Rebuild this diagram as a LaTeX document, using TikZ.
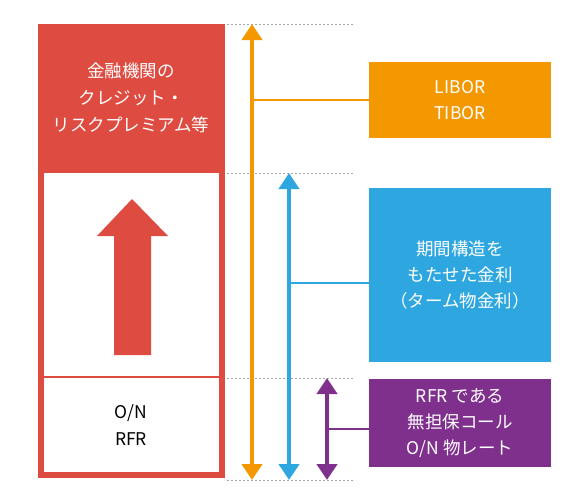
\documentclass[tikz,border=0pt]{standalone}
\usepackage{fontspec}
\setmainfont{Noto Sans CJK JP}
\usetikzlibrary{arrows.meta,positioning}
\definecolor{premred}{HTML}{DE4B41}
\definecolor{liborange}{HTML}{F39800}
\definecolor{termblue}{HTML}{2EA7E0}
\definecolor{onpurple}{HTML}{7F2F8C}
\tikzset{
    rate box/.style={
        fill=#1, text=white, minimum width=182pt, inner sep=0pt,
        align=center, font=\fontsize{17.5}{26}\selectfont
    },
    span arrow/.style={
        draw=#1, line width=4.5pt,
        {Triangle[length=16pt,width=20pt]}-{Triangle[length=16pt,width=20pt]}
    },
    branch/.style={draw=#1, line width=2.5pt},
    guide/.style={gray!70, line width=1pt, dash pattern=on 2pt off 2pt}
}

\begin{document}
\begin{tikzpicture}[x=1pt,y=-1pt]
    \useasboundingbox (0,0) rectangle (575,499);
    % left column
    \fill[premred] (38,24) rectangle (225,173);
    \draw[premred, line width=6pt] (41,27) rectangle (222,475);
    \draw[premred, line width=2.5pt] (41,377) -- (222,377);
    \fill[premred] (132,199) -- (168,236) -- (151,236) -- (151,355)
        -- (114,355) -- (114,236) -- (97,236) -- cycle;
    \node[text=white, align=center, font=\fontsize{17.5}{27}\selectfont] (prem) at (131,98)
        {金融機関の\\クレジット・\\リスクプレミアム等};
    \node[align=center, font=\fontsize{17.5}{27}\selectfont] (onrfr) at (131,425) {O/N\\RFR};
    % guides
    \foreach \y in {24,173,378,480}
        \draw[guide] (227,\y) -- (355,\y);
    % boxes
    \node[rate box=liborange, minimum height=76pt] (libor) at (460,100) {LIBOR\\TIBOR};
    \node[rate box=termblue, minimum height=174pt] (term) at (460,275)
        {期間構造を\\もたせた金利\\（ターム物金利）};
    \node[rate box=onpurple, minimum height=88pt] (oncall) at (460,423)
        {RFR である\\無担保コール\\O/N 物レート};
    % spans
    \coordinate (otop) at (252,24);
    \coordinate (obot) at (252,480);
    \coordinate (ttop) at (289,173);
    \coordinate (tbot) at (289,480);
    \coordinate (ptop) at (327,378);
    \coordinate (pbot) at (327,480);
    \draw[span arrow=liborange] (otop) -- (obot);
    \draw[span arrow=termblue] (ttop) -- (tbot);
    \draw[span arrow=onpurple] (ptop) -- (pbot);
    \coordinate (obr) at (252,100);
    \coordinate (tbr) at (289,283);
    \coordinate (pbr) at (327,429);
    \draw[branch=liborange] (obr) -- (obr -| libor.west);
    \draw[branch=termblue] (tbr) -- (tbr -| term.west);
    \draw[branch=onpurple] (pbr) -- (pbr -| oncall.west);
\end{tikzpicture}
\end{document}
